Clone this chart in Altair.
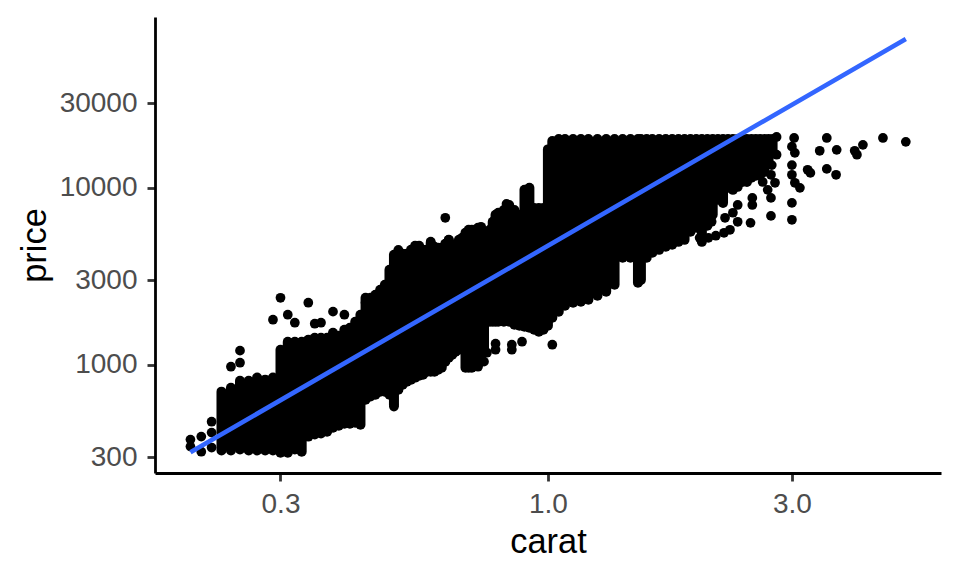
import altair as alt
import pandas as pd

# vertical extent of the dense cloud at each carat value
band_carat = [0.23,0.24,0.25,0.26,0.27,0.28,0.29,0.30,0.31,0.32,0.33,0.34,0.35,0.36,0.37,0.38,0.39,0.40,0.41,0.42,
              0.43,0.44,0.45,0.46,0.47,0.48,0.49,0.50,0.51,0.52,0.53,0.54,0.55,0.56,0.57,0.58,0.59,0.60,0.61,0.62,
              0.63,0.64,0.65,0.66,0.67,0.68,0.69,0.70,0.71,0.72,0.73,0.74,0.75,0.76,0.77,0.78,0.79,0.80,0.82,0.84,
              0.86,0.88,0.90,0.92,0.94,0.96,0.98,1.00,1.02,1.05,1.08,1.12,1.16,1.20,1.25,1.30,1.35,1.40,1.45,1.50,
              1.52,1.56,1.60,1.65,1.70,1.75,1.80,1.85,1.90,1.95,2.00,2.05,2.10,2.15,2.20,2.25,2.30,2.35,2.40,2.45,
              2.50,2.55,2.60,2.65,2.70,2.75]
band_high = [704,741,812,812,845,823,845,1215,1349,1349,1349,1384,1421,1421,1421,1516,1458,1577,1618,1750,
             1917,2390,2390,2487,2652,2830,3440,4180,4350,4235,4235,4460,4700,4700,4460,4460,4890,4640,4580,4580,
             4825,5080,4765,4765,5080,5215,5570,5790,5790,5645,5945,5945,5645,5645,5790,6430,7040,7230,7500,8000,
             7500,7040,9740,10000,7700,7700,7700,16500,18400,18900,18900,18900,18900,18900,18900,18900,18900,18900,18900,18900,
             18900,18900,18900,18900,18900,18900,18900,18900,18900,18900,18900,18900,18900,18900,18900,18900,18900,18900,18900,18900,
             18900,18900,18900,18900,18900,18900]
band_low = [327,327,331,327,327,327,327,318,318,331,322,392,403,408,418,440,452,464,464,470,
            458,634,660,677,704,704,677,594,722,771,802,823,845,867,878,913,913,913,937,962,
            1040,1095,1139,1184,1215,1247,962,962,962,1000,1000,1139,1215,1750,1750,1750,1750,1750,1750,1750,
            1683,1660,1639,1618,1577,1536,1577,1660,1843,1994,2154,2241,2270,2329,2455,2582,2830,4030,4030,2905,
            3016,4030,4295,4460,4640,4765,4950,5080,5645,5945,4950,6100,7040,8560,8220,10000,9740,10130,10800,10800,
            11400,11700,11850,12300,14400,16400]

# individually visible diamonds around the cloud
point_carat = [0.20,0.20,0.21,0.21,0.22,0.22,0.22,0.24,0.25,0.25,0.29,0.31,0.32,0.35,0.36,0.38,0.40,0.44,0.34,0.30,
               0.59,0.63,0.64,0.70,0.74,0.80,0.83,0.85,0.51,0.79,0.79,0.85,0.85,0.89,1.02,0.73,0.76,0.75,0.50,
               2.80,3.03,3.00,3.04,3.00,3.00,3.04,3.11,3.51,3.40,3.67,3.22,3.26,3.51,3.66,4.13,3.98,4.02,4.52,5.01,
               2.80,2.74,2.73,2.78,2.63,2.69,2.73,2.51,2.51,2.73,2.49,3.00,3.00,
               1.98,2.06,2.13,2.21,2.27,2.35,2.30,2.22,2.09,2.35]
point_price = [377,344,392,322,476,413,340,974,1026,1200,1795,1917,1727,1705,1727,1994,1917,2241,2241,2390,
               4960,6770,5080,5645,6020,7040,8110,7320,4460,1314,1215,1297,1215,1349,1297,974,1169,1040,580,
               19400,19150,17100,15770,13450,11850,10680,10000,19150,16200,16400,12650,12150,12800,11850,17500,16200,15400,19150,18200,
               15400,13450,11850,10680,10800,9740,8770,8770,8000,6940,6340,8220,6600,
               5215,5215,5360,5570,5790,6430,7230,6770,6430,8000]

# fitted line
line_carat = [0.20, 1.00, 5.01]
line_price = [320, 4700, 69500]

x_ticks = [0.3, 1.0, 3.0]
y_ticks = [300, 1000, 3000, 10000, 30000]

band = pd.DataFrame({"carat": band_carat, "low": band_low, "high": band_high})
points = pd.DataFrame({"carat": point_carat, "price": point_price})
fit = pd.DataFrame({"carat": line_carat, "price": line_price})

xs = alt.Scale(type="log", domain=[0.1705, 5.87], nice=False)
ys = alt.Scale(type="log", domain=[244, 92500], nice=False)

x_axis = alt.Axis(values=x_ticks, format=".1f", title="carat", grid=False, labelPadding=9, titlePadding=7)
y_axis = alt.Axis(values=y_ticks, format="d", title="price", grid=False, labelPadding=10, titlePadding=7)

cloud = alt.Chart(band).mark_rule(color="black", strokeWidth=10, strokeCap="round").encode(
    x=alt.X("carat:Q", scale=xs, axis=x_axis),
    y=alt.Y("low:Q", scale=ys, axis=y_axis),
    y2="high:Q",
)
dots = alt.Chart(points).mark_circle(color="black", size=95, opacity=1).encode(
    x=alt.X("carat:Q", scale=xs),
    y=alt.Y("price:Q", scale=ys),
)
line = alt.Chart(fit).mark_line(color="#3366FF", strokeWidth=4.6).encode(
    x=alt.X("carat:Q", scale=xs),
    y=alt.Y("price:Q", scale=ys),
)

chart = (
    alt.layer(cloud, dots, line)
    .properties(
        width=786,
        height=456,
        autosize=alt.AutoSizeParams(type="none"),
        padding={"left": 147, "top": 9, "right": 11, "bottom": 95},
    )
    .configure_view(stroke=None)
    .configure_axis(
        domainColor="black",
        domainWidth=2.8,
        tickColor="#333333",
        tickWidth=2.8,
        tickSize=8,
        labelColor="#4D4D4D",
        labelFont="Liberation Sans",
        labelFontSize=28,
        titleColor="black",
        titleFont="Liberation Sans",
        titleFontSize=34.4,
        titleFontWeight="normal",
    )
)

chart.save("out.html", embed_options={"renderer": "svg", "actions": False})
